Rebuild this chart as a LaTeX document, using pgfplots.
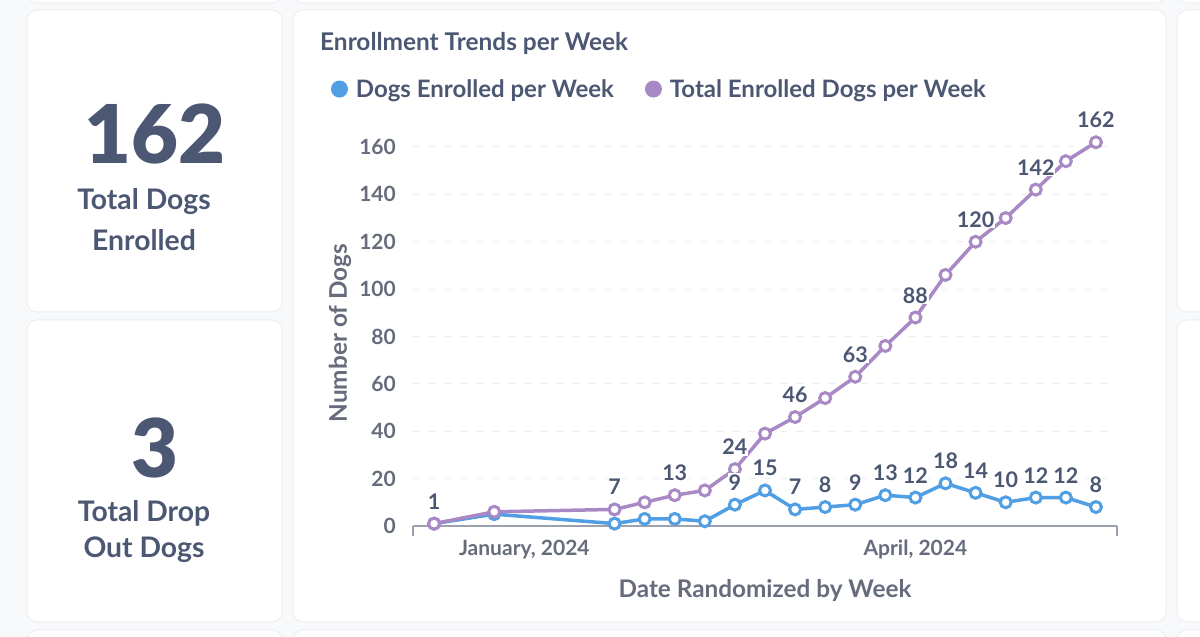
\documentclass[border=0pt]{standalone}
\usepackage{pgfplots}
\pgfplotsset{compat=1.18}
\usepackage{fontspec}
\setmainfont{Lato}
\newfontfamily\latoblack{Lato Black}
\definecolor{bg}{HTML}{F8F9FB}
\definecolor{cardborder}{HTML}{ECEEF1}
\definecolor{txt}{HTML}{4C5773}
\definecolor{ticktxt}{HTML}{666C7C}
\definecolor{mbblue}{HTML}{509EE3}
\definecolor{mbpurple}{HTML}{A989C5}
\definecolor{axisgray}{HTML}{9CA1AE}
\definecolor{gridgray}{HTML}{E8EAEE}
\newcommand\card[4]{\filldraw[fill=white, draw=cardborder, line width=1pt, rounded corners=10pt] (#1,{637-#4}) rectangle (#3,{637-#2});}
\newcommand\fs[1]{\bfseries\fontsize{#1}{#1}\selectfont}
\newcommand\fb[1]{\latoblack\fontsize{#1}{#1}\selectfont}
\pgfplotstableread{
x blue purple
-3 1 1
-1 5 6
3 1 7
4 3 10
5 3 13
6 2 15
7 9 24
8 15 39
9 7 46
10 8 54
11 9 63
12 13 76
13 12 88
14 18 106
15 14 120
16 10 130
17 12 142
18 12 154
19 8 162
}\data
\pgfplotstableread{
x y
-3 1
3 7
5 13
7 24
9 46
11 63
13 88
15 120
17 142
19 162
}\purplelabels
\pgfplotstableread{
x y
7 9
8 15
9 7
10 8
11 9
12 13
13 12
14 18
15 14
16 10
17 12
18 12
19 8
}\bluelabels
\begin{document}
\begin{tikzpicture}[x=1pt,y=1pt]
\useasboundingbox (0,0) rectangle (1200,637);
\clip (0,0) rectangle (1200,637);
\fill[bg] (0,0) rectangle (1200,637);
\card{27}{-30}{282}{3}
\card{293}{-30}{1166}{3}
\card{1177}{-30}{1240}{3}
\card{27}{10}{282}{312}
\card{27}{320}{282}{622}
\card{293}{10}{1166}{622}
\card{1177}{10}{1240}{312}
\card{1177}{320}{1240}{622}
\card{27}{630}{282}{680}
\card{293}{630}{1166}{680}
\card{1177}{630}{1240}{680}
% KPI cards
\node[font=\fb{81}, text=txt, inner sep=0pt] at (155,{637-134}) {162};
\node[font=\fs{28.3}, text=txt, inner sep=0pt] at (144,{637-202}) {Total Dogs};
\node[font=\fs{28.3}, text=txt, inner sep=0pt] at (144,{637-240}) {Enrolled};
\node[font=\fb{81}, text=txt, inner sep=0pt] at (155,{637-448}) {3};
\node[font=\fs{28.3}, text=txt, inner sep=0pt] at (144,{637-513}) {Total Drop};
\node[font=\fs{28.3}, text=txt, inner sep=0pt] at (144,{637-550}) {Out Dogs};
% title
\node[font=\fs{24.4}, text=txt, inner sep=0pt, anchor=west] at (320,{637-43}) {Enrollment Trends per Week};
\begin{axis}[
  at={(413pt,111pt)}, anchor=south west, scale only axis,
  width=704pt, height=402.7pt,
  xmin=-3.7, xmax=19.7, ymin=0, ymax=170,
  axis x line*=bottom, axis y line*=left,
  y axis line style={draw=none},
  x axis line style={draw=axisgray, line width=1.2pt},
  ytick={0,20,...,160},
  ymajorgrids,
  grid style={dash pattern=on 6pt off 10pt, gridgray, line width=1pt},
  major tick length=0pt,
  xtick={0,13},
  xticklabels={{January, 2024},{April, 2024}},
  extra x ticks={-3.7,19.7},
  extra x tick labels={},
  extra x tick style={major tick length=10pt, tick align=outside, grid=none,
     major tick style={draw=axisgray, line width=1.2pt}},
  tick label style={font=\fs{21}, text=ticktxt},
  /pgf/number format/assume math mode=true,
  xticklabel style={anchor=north, inner sep=0pt, yshift=-14pt},
  yticklabel style={anchor=east, inner sep=0pt, xshift=-17pt},
  xlabel={Date Randomized by Week},
  ylabel={Number of Dogs},
  xlabel style={at={(axis description cs:0.5,-0.159)}, anchor=center, font=\fs{24.3}, text=ticktxt},
  ylabel style={at={(axis description cs:-0.1037,0.479)}, anchor=center, font=\fs{24.3}, text=ticktxt},
  legend style={at={(axis description cs:-0.1165,1.085)}, anchor=west, draw=none, fill=none,
     inner sep=0pt, outer sep=0pt, font=\fs{24}, text=txt, legend columns=-1,
     /tikz/every odd column/.append style={column sep=8pt},
     /tikz/every even column/.append style={column sep=31pt},
     nodes={inner sep=0pt}},
  legend image code/.code={\fill[#1, draw=none] (8pt,0pt) circle (8.5pt);},
  every node near coord/.append style={font=\fs{21.5}, text=txt, anchor=base, yshift=14.5pt, inner sep=1pt, fill=white},
]
\addplot[mbblue, line width=3.5pt, mark=*, mark size=5.5pt, mark options={fill=white, line width=3pt}] table[x=x, y=blue] {\data};
\addlegendentry{Dogs Enrolled per Week}
\addplot[mbpurple, line width=3.5pt, mark=*, mark size=5.5pt, mark options={fill=white, line width=3pt}] table[x=x, y=purple] {\data};
\addlegendentry{Total Enrolled Dogs per Week}
\addplot[draw=none, forget plot, nodes near coords, point meta=y] table[x=x, y=y] {\bluelabels};
\addplot[draw=none, forget plot, nodes near coords, point meta=y] table[x=x, y=y] {\purplelabels};
\end{axis}
\end{tikzpicture}
\end{document}
